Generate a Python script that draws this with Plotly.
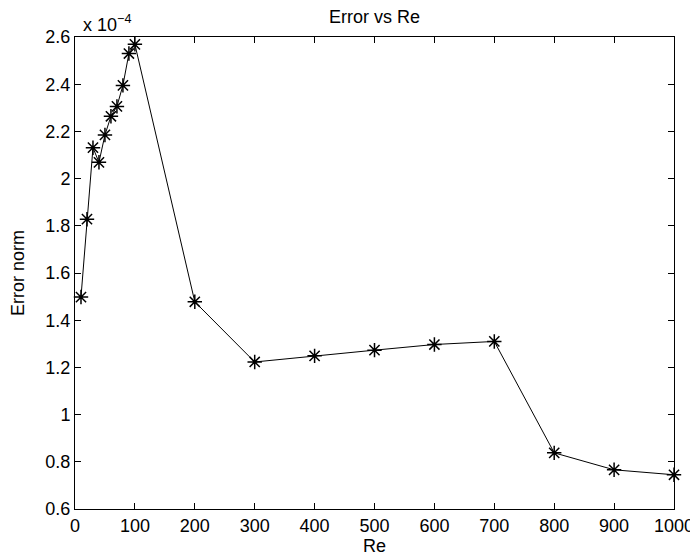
import plotly.graph_objects as go

re_values = [10, 20, 30, 40, 50, 60, 70, 80, 90, 100,
             200, 300, 400, 500, 600, 700, 800, 900, 1000]
error_norm_e4 = [1.498, 1.828, 2.131, 2.069, 2.185, 2.264, 2.306, 2.395, 2.530, 2.569,
                 1.478, 1.223, 1.249, 1.273, 1.297, 1.310, 0.838, 0.766, 0.745]
x_ticks = [0, 100, 200, 300, 400, 500, 600, 700, 800, 900, 1000]
y_ticks = [0.6, 0.8, 1.0, 1.2, 1.4, 1.6, 1.8, 2.0, 2.2, 2.4, 2.6]
y_tick_labels = ["0.6", "0.8", "1", "1.2", "1.4", "1.6", "1.8", "2", "2.2", "2.4", "2.6"]

FONT = "Liberation Sans, Arial, Helvetica, sans-serif"
FS = 18
W, H = 690, 552  # page body has an 8px margin

fig = go.Figure()
fig.add_trace(go.Scatter(
    x=re_values, y=error_norm_e4, mode="lines+markers",
    line=dict(color="black", width=1),
    marker=dict(symbol="asterisk-open", size=12, color="black",
                line=dict(color="black", width=1.5)),
    showlegend=False, cliponaxis=False,
))

axis_common = dict(
    showline=True, linecolor="black", linewidth=1, mirror="ticks",
    ticks="inside", ticklen=6, tickcolor="black", tickwidth=1,
    showgrid=False, zeroline=False, automargin=False,
    tickfont=dict(family=FONT, size=FS, color="black"),
)
fig.update_xaxes(range=[0, 1000], tickvals=x_ticks,
                 title=dict(text="Re", font=dict(family=FONT, size=FS, color="black"), standoff=3),
                 **axis_common)
fig.update_yaxes(range=[0.6, 2.6], tickvals=y_ticks, ticktext=y_tick_labels,
                 title=dict(text="Error norm", font=dict(family=FONT, size=FS, color="black"), standoff=16),
                 **axis_common)

fig.update_layout(
    width=W, height=H,
    margin=dict(l=67, r=24, t=29, b=51),
    plot_bgcolor="white", paper_bgcolor="white",
    title=dict(text="Error vs Re", x=0.5, xref="paper", xanchor="center",
               y=(H - 9) / H, yref="container", yanchor="middle",
               font=dict(family=FONT, size=FS, color="black")),
    annotations=[dict(text="x 10<sup>−4</sup>", xref="paper", yref="paper",
                      x=0.0, y=1.0, xanchor="left", yanchor="bottom", xshift=6, yshift=0,
                      showarrow=False, font=dict(family=FONT, size=FS, color="black"))],
)

fig.write_html("out.html")
